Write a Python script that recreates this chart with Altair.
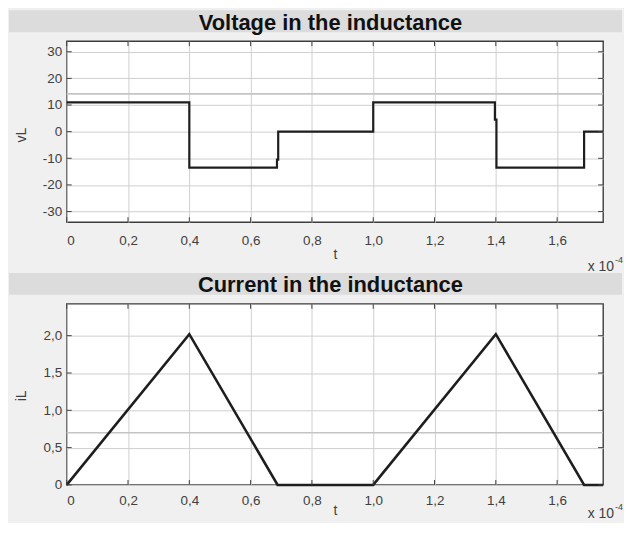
import altair as alt
import pandas as pd

# ---------------- data (t in units of 1e-4 s) ----------------
t_v = [0, 0.4, 0.4, 0.686, 0.686, 0.69, 0.69, 1.0, 1.0, 1.397, 1.397, 1.402, 1.402, 1.688, 1.688, 1.75]
v_L = [11, 11, -13.5, -13.5, -10.5, -10.5, 0, 0, 11, 11, 4.5, 4.5, -13.5, -13.5, 0, 0]

t_i = [0, 0.4, 0.688, 1.0, 1.4, 1.688, 1.75]
i_L = [0, 2.02, 0, 0, 2.02, 0, 0]

x_ticks = [0, 0.2, 0.4, 0.6, 0.8, 1.0, 1.2, 1.4, 1.6]
v_ticks = [-30, -20, -10, 0, 10, 20, 30]
i_ticks = [0, 0.5, 1.0, 1.5, 2.0]

v_overlay = [14.2]   # faint horizontal line visible in the screenshot
i_overlay = [0.7]

title_top = "Voltage in the inductance"
title_bottom = "Current in the inductance"
x_title = "t"
v_title = "vL"
i_title = "iL"
exp_base = "x 10"
exp_sup = "-4"

# ---------------- layout ----------------
W = 539
H = 182
LINE = "#1e1e1e"
TICK = "#404040"
BAND = "#dcdcdc"

comma = "datum.value == 0 ? '0' : replace(format(datum.value, '.1f'), '.', ',')"
plain = "'' + datum.value"


def xenc(label_pad, title_y):
    return alt.X(
        "t:Q",
        scale=alt.Scale(domain=[0, 1.75], nice=False, zero=False),
        axis=alt.Axis(values=x_ticks, labelExpr=comma, title=x_title,
                      labelPadding=label_pad, titleY=title_y,
                      titleBaseline="middle", grid=True),
    )


def yenc(domain, ticks, title, title_y, label_expr):
    return alt.Y("v:Q", scale=alt.Scale(domain=domain, nice=False, zero=False),
                 axis=alt.Axis(values=ticks, title=title, labelPadding=5,
                               titleX=-45, titleY=title_y, titleAngle=270,
                               titleAlign="center", titleBaseline="middle",
                               grid=True, labelExpr=label_expr))


def panel(ts, vs, overlay, domain, ticks, title, ytitle, label_pad, xtitle_y,
          ytitle_y, exp_y, label_expr, title_base, lw=2.2):
    X = xenc(label_pad, xtitle_y)
    Y = yenc(domain, ticks, ytitle, ytitle_y, label_expr)
    df = pd.DataFrame({"t": ts, "v": vs, "idx": list(range(len(ts)))})

    band = alt.Chart(pd.DataFrame({"k": [0]})).mark_rect(color=BAND).encode(
        x=alt.value(-58), x2=alt.value(558), y=alt.value(-31), y2=alt.value(-9))
    head = alt.Chart(pd.DataFrame({"label": [title]})).mark_text(
        font="Liberation Sans", fontWeight="bold", fontSize=22, color="#111111",
        align="center", baseline="alphabetic").encode(
        x=alt.value(265), y=alt.value(title_base), text="label:N")

    ov = alt.Chart(pd.DataFrame({"v": overlay})).mark_rule(
        color="#c4c4c4", strokeWidth=1.6).encode(y=Y)

    line = alt.Chart(df).mark_line(color=LINE, strokeWidth=lw, strokeJoin="miter").encode(
        x=X, y=Y, order="idx:Q")

    xt = pd.DataFrame({"t": x_ticks})
    yt = pd.DataFrame({"v": ticks})
    tb = alt.Chart(xt).mark_rule(color=TICK, strokeWidth=1).encode(
        x=X, y=alt.value(H), y2=alt.value(H - 5))
    tt = alt.Chart(xt).mark_rule(color=TICK, strokeWidth=1).encode(
        x=X, y=alt.value(0), y2=alt.value(5))
    tl = alt.Chart(yt).mark_rule(color=TICK, strokeWidth=1).encode(
        y=Y, x=alt.value(0), x2=alt.value(5))
    tr = alt.Chart(yt).mark_rule(color=TICK, strokeWidth=1).encode(
        y=Y, x=alt.value(W - 5), x2=alt.value(W))

    e1 = alt.Chart(pd.DataFrame({"s": [exp_base]})).mark_text(
        font="Liberation Sans", fontSize=14, color="#404040", align="right",
        baseline="middle").encode(x=alt.value(550), y=alt.value(exp_y), text="s:N")
    e2 = alt.Chart(pd.DataFrame({"s": [exp_sup]})).mark_text(
        font="Liberation Sans", fontSize=9, color="#404040", align="left",
        baseline="middle").encode(x=alt.value(551), y=alt.value(exp_y - 7), text="s:N")

    return alt.layer(band, head, ov, line, tb, tt, tl, tr, e1, e2).properties(
        width=W, height=H)


top = panel(t_v, v_L, v_overlay, [-34, 34], v_ticks, title_top, v_title,
            label_pad=11, xtitle_y=32, ytitle_y=94, exp_y=227, label_expr=plain,
            title_base=-11, lw=2.2)
bottom = panel(t_i, i_L, i_overlay, [0, 2.427], i_ticks, title_bottom, i_title,
               label_pad=9, xtitle_y=26, ytitle_y=92, exp_y=211,
               label_expr=comma, title_base=-12, lw=2.6)

chart = alt.vconcat(top, bottom, spacing=82, bounds="flush").properties(
    padding=0
).configure(background="#f0f0f0").configure_view(
    fill="white", stroke="#3c3c3c", strokeWidth=1.4
).configure_axis(
    domain=False, ticks=False, gridColor="#cfcfcf", gridWidth=1,
    labelFont="Liberation Sans", labelFontSize=13.5, labelColor="#404040",
    titleFont="Liberation Sans", titleFontSize=14, titleFontWeight="normal",
    titleColor="#404040"
)

chart.save("out.html", embed_options={"renderer": "svg", "actions": False})
